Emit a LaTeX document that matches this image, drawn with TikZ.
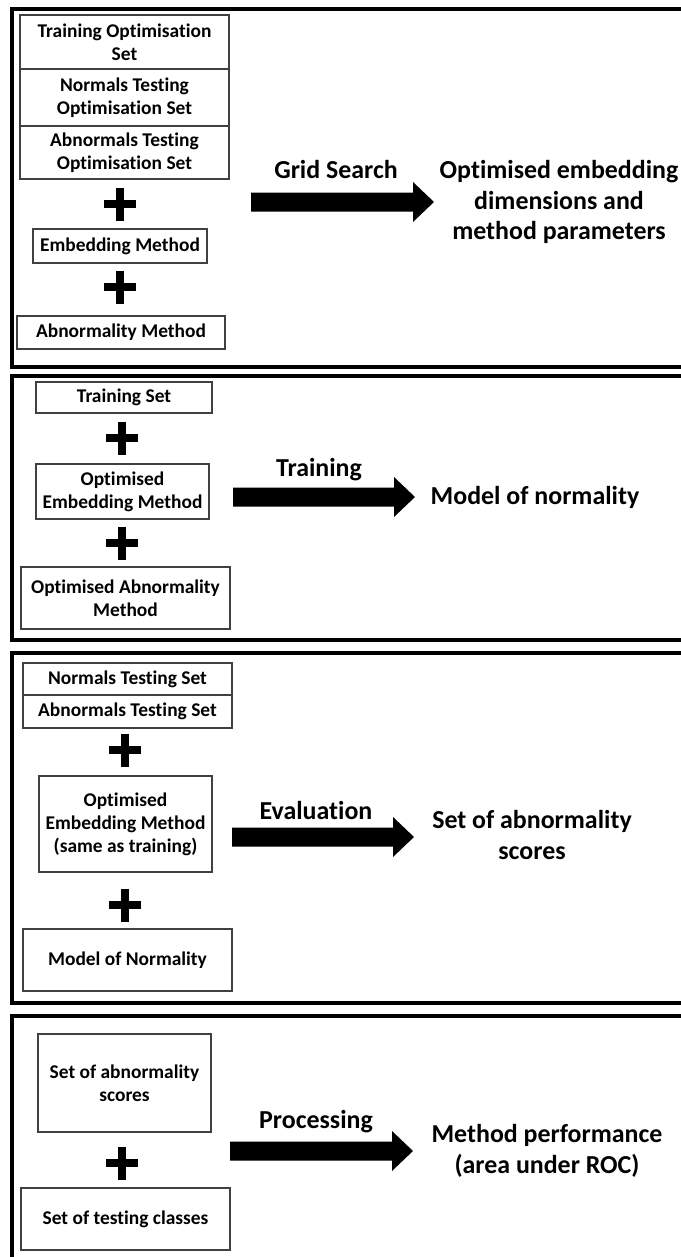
\documentclass[tikz,border=0pt]{standalone}
\usepackage{fontspec}
\setmainfont{Carlito}[Ligatures=NoCommon]
\usetikzlibrary{calc}

% thick block arrow from #1 (tail centre) to #2 (tip)
\newcommand\blockarrow[2]{%
  \fill ($(#1)+(0,-9.5)$) -- ($(#2)+(-21,-9.5)$) -- ($(#2)+(-21,-20)$) -- (#2)
        -- ($(#2)+(-21,20)$) -- ($(#2)+(-21,9.5)$) -- ($(#1)+(0,9.5)$) -- cycle;}
% bold plus sign centred on #1
\newcommand\drawplus[1]{%
  \draw[plusbar] (#1) ++(-16,0) -- ++(32,0) (#1) ++(0,-16.5) -- ++(0,33);}

\begin{document}
\begin{tikzpicture}[x=1bp,y=-1bp,
  box/.style={draw=black!75, line width=1.1bp, inner sep=0pt, align=center,
              font=\fontsize{19.5}{23}\selectfont\bfseries},
  biglabel/.style={inner sep=0pt, align=center,
              font=\fontsize{26}{31}\selectfont\bfseries},
  panel/.style={draw=black, line width=3.5bp},
  plusbar/.style={draw=black, line width=8.5bp}]

\useasboundingbox (0,0) rectangle (681,1257);
\clip (0,0) rectangle (681,1257);
\fill[white] (0,0) rectangle (681,1257);

% ---------- panel frames ----------
\draw[panel] (12,9) rectangle (700,367);
\draw[panel] (12,376) rectangle (700,640);
\draw[panel] (12,653) rectangle (700,1003);
\draw[panel] (12,1016) rectangle (700,1280);

% ---------- panel 1: grid search ----------
\node[box, minimum width=209bp, minimum height=54bp] (tos) at (124.5,42) {Training Optimisation\\Set};
\node[box, minimum width=209bp, minimum height=57bp] (ntos) at (124.5,97.5) {Normals Testing\\Optimisation Set};
\node[box, minimum width=209bp, minimum height=53bp] (atos) at (124.5,152.5) {Abnormals Testing\\Optimisation Set};
\coordinate (p1a) at (120,204);
\drawplus{p1a}
\node[box, minimum width=174bp, minimum height=34bp] (em) at (120,246) {Embedding Method};
\coordinate (p1b) at (120,287);
\drawplus{p1b}
\node[box, minimum width=208bp, minimum height=33bp] (am) at (121,332.5) {Abnormality Method};

\coordinate (a1s) at (251,202);
\coordinate (a1e) at (434,202);
\blockarrow{a1s}{a1e}
\node[biglabel] (gs) at (336,170) {Grid Search};
\node[biglabel] (out1) at (559,202) {Optimised embedding\\dimensions and\\method parameters};

% ---------- panel 2: training ----------
\node[box, minimum width=176bp, minimum height=31bp] (ts) at (124,397.5) {Training Set};
\coordinate (p2a) at (122,438);
\drawplus{p2a}
\node[box, minimum width=173bp, minimum height=55bp] (oem) at (122.5,491.5) {Optimised\\Embedding Method};
\coordinate (p2b) at (122,543);
\drawplus{p2b}
\node[box, minimum width=209bp, minimum height=62bp] (oam) at (125.5,598) {Optimised Abnormality\\Method};

\coordinate (a2s) at (233,497);
\coordinate (a2e) at (415,497);
\blockarrow{a2s}{a2e}
\node[biglabel] (tr) at (319,470) {Training};
\node[biglabel] (out2) at (535,497) {Model of normality};

% ---------- panel 3: evaluation ----------
\node[box, minimum width=209bp, minimum height=32bp] (nts) at (127.5,679) {Normals Testing Set};
\node[box, minimum width=209bp, minimum height=33bp] (ats) at (127.5,711.5) {Abnormals Testing Set};
\coordinate (p3a) at (125,750);
\drawplus{p3a}
\node[box, minimum width=173bp, minimum height=96bp] (oems) at (125.5,824) {Optimised\\Embedding Method\\(same as training)};
\coordinate (p3b) at (125,905);
\drawplus{p3b}
\node[box, minimum width=209bp, minimum height=62bp] (mn) at (127.5,960) {Model of Normality};

\coordinate (a3s) at (232,837);
\coordinate (a3e) at (414,837);
\blockarrow{a3s}{a3e}
\node[biglabel] (ev) at (316,810) {Evaluation};
\node[biglabel] (out3) at (532,835) {Set of abnormality\\scores};

% ---------- panel 4: processing ----------
\node[box, minimum width=173bp, minimum height=98bp] (sas) at (124.5,1083) {Set of abnormality\\scores};
\coordinate (p4a) at (122,1163);
\drawplus{p4a}
\node[box, minimum width=209bp, minimum height=62bp] (stc) at (125.5,1219) {Set of testing classes};

\coordinate (a4s) at (230,1151);
\coordinate (a4e) at (413,1151);
\blockarrow{a4s}{a4e}
\node[biglabel] (pr) at (316,1122) {Processing};
\node[biglabel] (out4) at (547,1151) {Method performance\\(area under ROC)};

\end{tikzpicture}
\end{document}
